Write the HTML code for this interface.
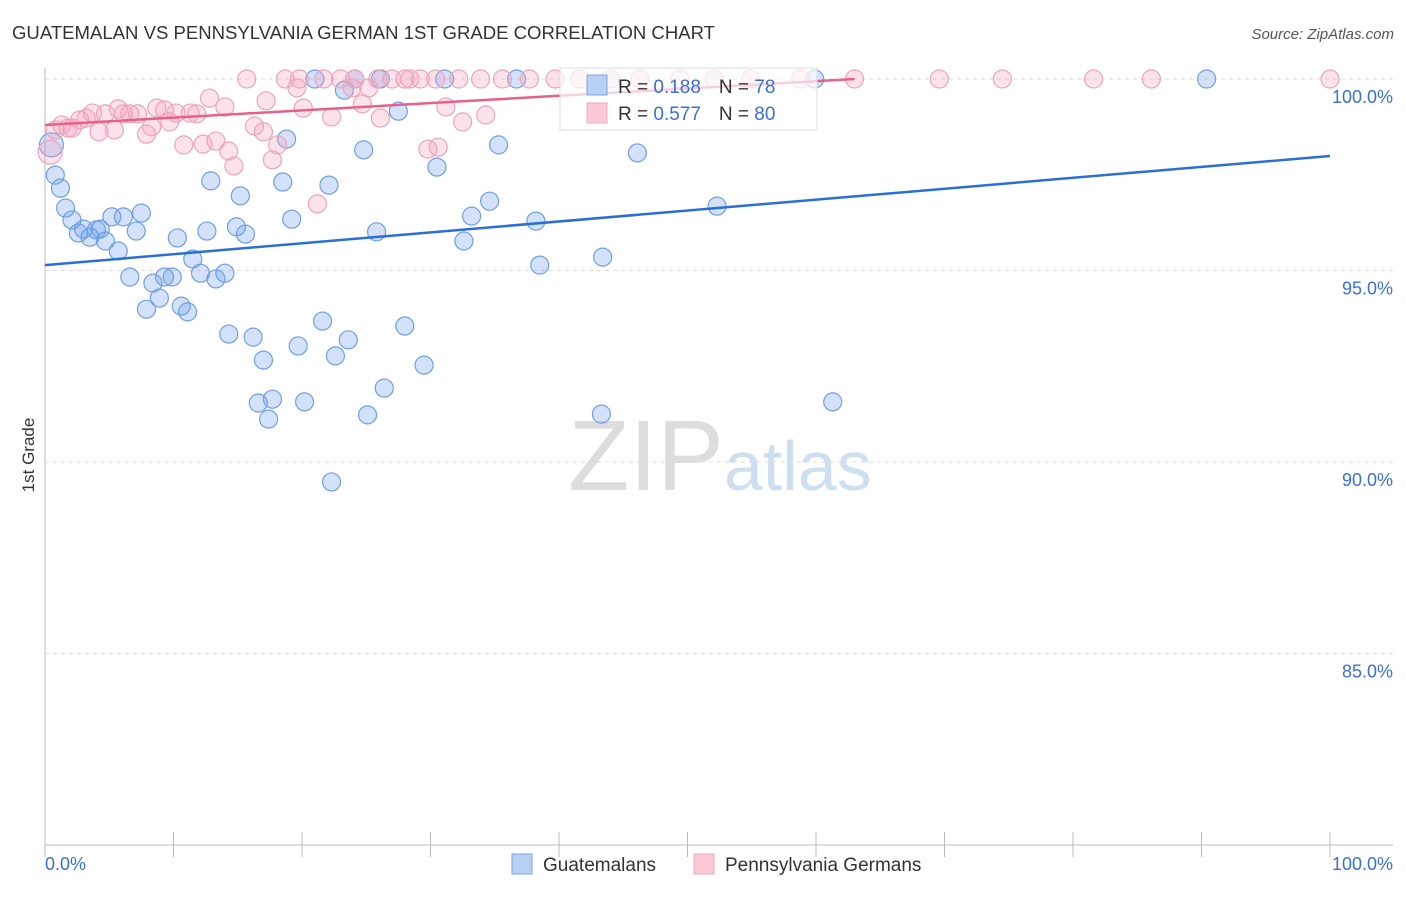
<!DOCTYPE html>
<html><head><meta charset="utf-8"><style>
body{margin:0;background:#fff;font-family:"Liberation Sans",sans-serif}
svg text{font-family:"Liberation Sans",sans-serif}
</style></head><body>
<svg id="c" width="1406" height="892">
<text x="12" y="39" font-size="18" fill="#333" textLength="703" lengthAdjust="spacingAndGlyphs">GUATEMALAN VS PENNSYLVANIA GERMAN 1ST GRADE CORRELATION CHART</text>
<text x="1394" y="39" font-size="15" fill="#555" font-style="italic" text-anchor="end">Source: ZipAtlas.com</text>
<text x="34" y="455" font-size="17" fill="#333" transform="rotate(-90 34 455)" text-anchor="middle">1st Grade</text>
<text x="720" y="490" font-size="100" fill="#ddd" text-anchor="middle" font-family="Liberation Serif"><tspan fill="#ddd">ZIP</tspan><tspan fill="#cfdff2" font-family="Liberation Sans" font-size="70">atlas</tspan></text>
<g id="grid"></g><g id="pts"></g><g id="lines"></g>
<g>
<rect x="560" y="68" width="257" height="62" fill="#fff" fill-opacity="0.7" stroke="#ddd"/>
<rect x="587" y="75" width="20" height="20" fill="#b8d0f4" stroke="#7aa6e6"/>
<rect x="587" y="103" width="20" height="20" fill="#fcc8d6" stroke="#f0a8bd"/>
<text x="618" y="93" font-size="19" fill="#333">R = <tspan fill="#3a6fd8">0.188</tspan><tspan dx="18">N = </tspan><tspan fill="#3a6fd8">78</tspan></text>
<text x="618" y="120" font-size="19" fill="#333">R = <tspan fill="#3a6fd8">0.577</tspan><tspan dx="18">N = </tspan><tspan fill="#3a6fd8">80</tspan></text>
</g>
<g>
<rect x="512" y="854" width="20" height="20" fill="#b8d0f4" stroke="#7aa6e6"/>
<text x="543" y="871" font-size="19" fill="#333">Guatemalans</text>
<rect x="694" y="854" width="20" height="20" fill="#fcc8d6" stroke="#f0a8bd"/>
<text x="725" y="871" font-size="19" fill="#333">Pennsylvania Germans</text>
</g>
<text x="45" y="870" font-size="18" fill="#3a6fd8">0.0%</text>
<text x="1393" y="870" font-size="18" fill="#3a6fd8" text-anchor="end">100.0%</text>
</svg>
<script>
const yTicks=[100,95,90,85];
const yTickLabels=["100.0%","95.0%","90.0%","85.0%"];
const blueX=[0.5,0.8,1.2,1.6,2.1,2.6,3.0,3.5,4.0,4.3,4.7,5.2,5.7,6.1,6.6,7.1,7.5,7.9,8.4,8.9,9.3,9.9,10.3,10.6,11.1,11.5,12.1,12.6,12.9,13.3,14.0,14.3,14.9,15.2,15.6,16.2,16.6,17.0,17.4,17.7,18.5,18.8,19.2,19.7,20.2,21.0,21.6,22.1,22.6,23.3,23.6,24.1,24.8,25.1,25.8,26.1,26.4,27.5,28.0,29.5,30.5,31.1,32.6,33.2,34.6,35.3,36.7,38.2,38.5,43.3,43.4,46.1,52.3,59.9,61.3,90.4,22.3];
const blueY=[98.28,97.49,97.15,96.63,96.32,95.98,96.08,95.87,96.06,96.08,95.77,96.40,95.51,96.40,94.83,96.03,96.50,93.99,94.67,94.28,94.83,94.83,95.85,94.07,93.92,95.30,94.93,96.03,97.34,94.78,94.93,93.34,96.14,96.95,95.95,93.26,91.54,92.66,91.12,91.64,97.31,98.43,96.34,93.03,91.57,100,93.68,97.23,92.77,99.71,93.19,100,98.15,91.23,96.01,100,91.93,99.16,93.55,92.53,97.70,100,95.77,96.42,96.81,98.28,100,96.29,95.14,91.25,95.35,98.07,96.68,100,91.57,100,89.48];
const pinkX=[0.4,0.8,1.3,1.8,2.1,2.7,3.2,3.7,4.2,4.7,5.4,5.7,6.1,6.6,7.2,7.9,8.3,8.7,9.3,9.7,10.2,10.8,11.3,11.8,12.3,12.8,13.3,14.0,14.3,14.7,15.7,16.3,17.0,17.2,17.7,18.1,18.7,19.6,20.1,21.2,21.7,22.3,23.0,23.9,24.7,25.2,25.9,26.1,27.0,28.0,28.4,29.2,29.8,30.4,30.6,31.2,32.2,32.5,33.9,34.3,35.6,37.7,39.7,41.6,44.0,46.3,49.4,52.1,54.9,58.8,63.0,69.6,74.5,81.6,86.1,100,24.1,19.8];
const pinkY=[98.09,98.67,98.80,98.72,98.72,98.93,98.98,99.11,98.62,99.09,98.67,99.22,99.09,99.09,99.09,98.56,98.75,99.24,99.19,98.88,99.11,98.28,99.11,99.09,98.30,99.50,98.38,99.27,98.12,97.73,100,98.77,98.62,99.43,97.89,98.28,100,99.77,99.24,96.74,100,99.01,100,99.77,99.35,99.77,100,98.98,100,100,100,100,98.17,100,98.22,99.27,100,98.88,100,99.06,100,100,100,100,100,100,100,100,100,100,100,100,100,100,100,100,100,100];
const blueTrend=[[0,95.14],[100,97.99]];
const pinkTrend=[[0,98.8],[63,100]];
const xs=v=>45+v*12.85, ys=v=>79+(100-v)*38.3;
const NS="http://www.w3.org/2000/svg";
function mk(t,a,p){const e=document.createElementNS(NS,t);for(const k in a)e.setAttribute(k,a[k]);p.appendChild(e);return e;}
const g=document.getElementById('grid');
let ax=mk('line',{x1:45,y1:68,x2:45,y2:845,stroke:'#bbb'},g);


let bx=mk('line',{x1:45,y1:845,x2:1393,y2:845,stroke:'#bbb'},g);


for(let i=0;i<=10;i++){const t=mk('line',{x1:xs(i*10),y1:832,x2:xs(i*10),y2:857,stroke:'#bbb'},g);

}
yTicks.forEach((v,i)=>{const l=mk('line',{x1:45,y1:ys(v),x2:1393,y2:ys(v),stroke:'#ddd','stroke-dasharray':'4 4'},g);


const t=mk('text',{x:1393,y:ys(v)+24,'font-size':18,fill:'#3a6fd8','text-anchor':'end'},g);t.textContent=yTickLabels[i];

});
const p=document.getElementById('pts');
blueX.forEach((x,i)=>{const c=mk('circle',{cx:xs(x),cy:ys(blueY[i]),r:i==0?12:9,fill:'rgba(110,160,235,0.3)',stroke:'#6f9fe2','stroke-width':1.2},p);

});
pinkX.forEach((x,i)=>{const c=mk('circle',{cx:xs(x),cy:ys(pinkY[i]),r:i==0?12:9,fill:'rgba(245,160,188,0.3)',stroke:'#eca4bb','stroke-width':1.2},p);

});
const L=document.getElementById('lines');
let b=mk('line',{x1:xs(blueTrend[0][0]),y1:ys(blueTrend[0][1]),x2:xs(blueTrend[1][0]),y2:ys(blueTrend[1][1]),stroke:'#2a6fd6','stroke-width':2.5},L);


let q=mk('line',{x1:xs(pinkTrend[0][0]),y1:ys(pinkTrend[0][1]),x2:xs(pinkTrend[1][0]),y2:ys(pinkTrend[1][1]),stroke:'#e8608a','stroke-width':2.5},L);


</script>
</body></html>
